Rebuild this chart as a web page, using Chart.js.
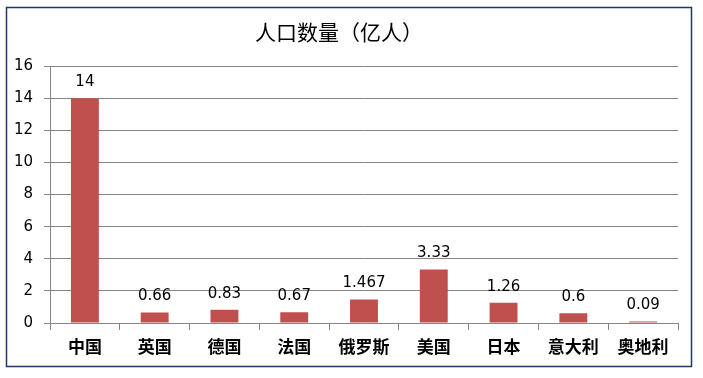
<!DOCTYPE html>
<html>
<head>
<meta charset="utf-8">
<script src="https://cdn.jsdelivr.net/npm/chart.js@4/dist/chart.umd.min.js"></script>
<style>
  html, body { margin: 0; padding: 0; background: #fff; }
  #wrap { width: 703px; height: 378px; }
</style>
</head>
<body>
<div id="wrap"><canvas id="pop-chart" width="703" height="378"></canvas></div>
<script>
// 数据
const countries = ['中国', '英国', '德国', '法国', '俄罗斯', '美国', '日本', '意大利', '奥地利'];
const population = [14, 0.66, 0.83, 0.67, 1.467, 3.33, 1.26, 0.6, 0.09];
const yTicks = [0, 2, 4, 6, 8, 10, 12, 14, 16];

const gridGrey = '#868686';

// 外边框
const frame = {
    id: 'frame',
    afterDraw(chart) {
        const ctx = chart.ctx;
        ctx.save();
        ctx.strokeStyle = '#1F3864';
        ctx.lineWidth = 1.5;
        ctx.strokeRect(6.5, 7.5, 685, 359);
        ctx.restore();
    }
};

// 数值标签
const valueLabels = {
    id: 'valueLabels',
    afterDatasetsDraw(chart) {
        const ctx = chart.ctx;
        const meta = chart.getDatasetMeta(0);
        ctx.save();
        ctx.fillStyle = '#000';
        ctx.font = '15px "DejaVu Sans"';
        ctx.textAlign = 'center';
        ctx.textBaseline = 'middle';
        meta.data.forEach((bar, i) => {
            ctx.fillText(String(population[i]), bar.x, bar.y - 16);
        });
        ctx.restore();
    }
};

new Chart(document.getElementById('pop-chart').getContext('2d'), {
    type: 'bar',
    data: {
        labels: countries,
        datasets: [{
            label: '人口数量（亿人）',
            data: population,
            backgroundColor: '#C0504D',
            borderWidth: 0,
            categoryPercentage: 1,
            barPercentage: 0.4
        }]
    },
    options: {
        responsive: false,
        animation: false,
        layout: { padding: { left: 0, right: 25, top: 0, bottom: 8 } },
        plugins: {
            legend: { display: false },
            tooltip: { enabled: false },
            title: {
                display: true,
                text: '人口数量（亿人）',
                color: '#000',
                font: { family: '"Noto Sans CJK SC"', size: 21, weight: 'normal' },
                padding: { top: 19, bottom: 22 }
            }
        },
        scales: {
            x: {
                grid: {
                    offset: true,
                    drawOnChartArea: false,
                    drawTicks: true,
                    tickLength: 7,
                    color: gridGrey
                },
                border: { display: true, color: gridGrey },
                ticks: {
                    color: '#000',
                    padding: 6,
                    font: { family: '"Noto Sans CJK SC"', size: 17, weight: 'bold' },
                    maxRotation: 0
                },
                afterFit(scale) { scale.height = 47; }
            },
            y: {
                min: 0,
                max: 16,
                afterBuildTicks(scale) { scale.ticks = yTicks.map(v => ({ value: v })); },
                grid: {
                    color: gridGrey,
                    tickLength: 6
                },
                border: { display: true, color: gridGrey },
                ticks: {
                    color: '#000',
                    padding: 11,
                    font: { family: '"DejaVu Sans"', size: 15 }
                },
                afterFit(scale) { scale.width = 50; }
            }
        }
    },
    plugins: [frame, valueLabels]
});
</script>
</body>
</html>
